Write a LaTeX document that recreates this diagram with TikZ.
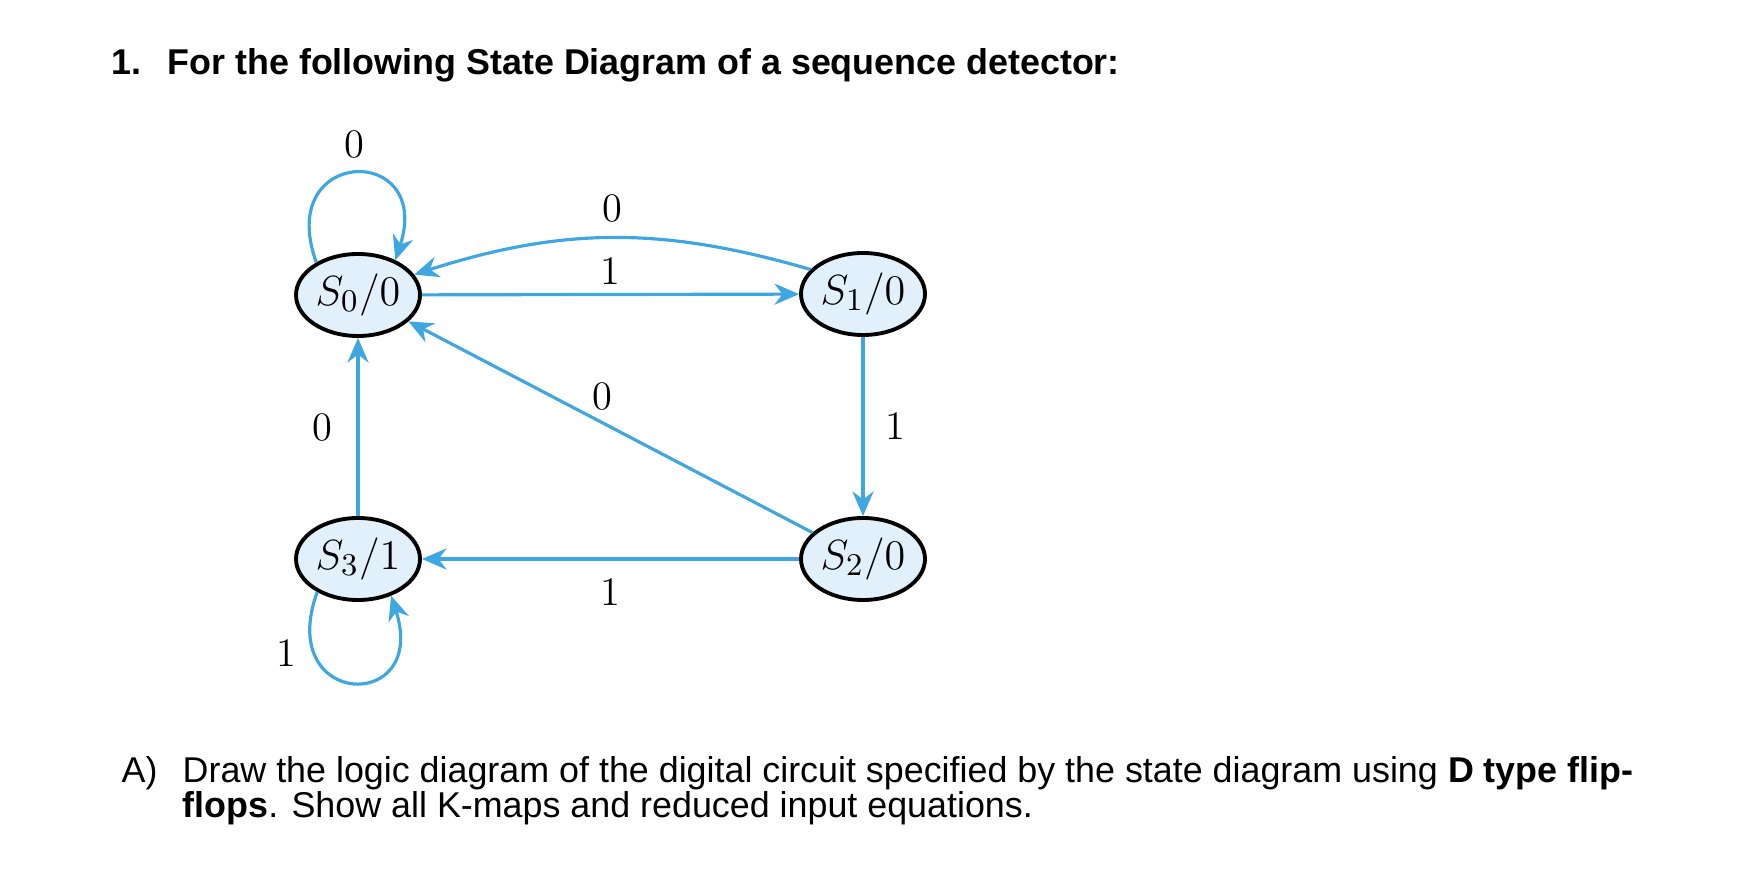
\documentclass[tikz,border=0pt]{standalone}
\usepackage{fontspec}
\usepackage{tikz}
\usetikzlibrary{arrows.meta, positioning, shapes.geometric, calc}
\usepackage{xcolor}
\newfontfamily\qfont{Liberation Sans}
\definecolor{transblue}{RGB}{62,166,224}
\definecolor{statefill}{RGB}{226,240,251}
\tikzset{
  state/.style={ellipse, draw=black, fill=statefill, line width=1.1pt,
                inner sep=0pt, minimum width=1.24cm, minimum height=0.82cm,
                font=\fontsize{12.5}{14}\selectfont},
  trans/.style={draw=transblue, line width=0.9pt,
                -{Stealth[length=7pt, width=6pt]}},
  lbl/.style={font=\fontsize{11.5}{13}\selectfont, inner sep=1pt},
  qtext/.style={font=\qfont\fontsize{10.2}{10.5}\selectfont, inner sep=0pt,
                anchor=base west},
}

\begin{document}
\begin{tikzpicture}
    \useasboundingbox (0,0) rectangle (17.56,8.72);
    %% question header
    \node[qtext] (qnum) at (1.11,7.97) {\bfseries 1.};
    \node[qtext] (title) at (1.67,7.97)
      {\bfseries For the following State Diagram of a sequence detector:};
    %% states
    \node[state] (s0) at (3.58,5.77) {$S_0/0$};
    \node[state] (s1) at (8.63,5.78) {$S_1/0$};
    \node[state] (s2) at (8.63,3.13) {$S_2/0$};
    \node[state] (s3) at (3.58,3.13) {$S_3/1$};
    %% transitions
    \draw[trans] (s0.142) to[out=110, in=72, looseness=4]
      node[lbl, above=3pt] {0} (s0.43);
    \draw[trans] (s1.155) to[bend right=17] node[lbl, above=3pt] {0} (s0.20);
    \draw[trans] (s0) -- node[lbl, above=1.5pt] {1} (s1);
    \draw[trans] (s1) -- node[lbl, right=5pt] {1} (s2);
    \draw[trans] (s2) -- node[lbl, above=2pt, pos=0.52] {0} (s0);
    \draw[trans] (s2) -- node[lbl, below=4pt] {1} (s3);
    \draw[trans] (s3) -- node[lbl, left=6pt] {0} (s0);
    \draw[trans] (s3.219) to[out=250, in=-72, looseness=4.3]
      node[lbl, pos=0.22, left=3.5pt] {1} (s3.-48);
    %% part A
    \node[qtext] (partA) at (1.21,0.90) {A)};
    \node[qtext] (task1) at (1.82,0.90)
      {Draw the logic diagram of the digital circuit specified by the state diagram using \textbf{D type flip-}};
    \node[qtext] (task2) at (1.82,0.55)
      {\textbf{flops}. Show all K-maps and reduced input equations.};
\end{tikzpicture}
\end{document}
